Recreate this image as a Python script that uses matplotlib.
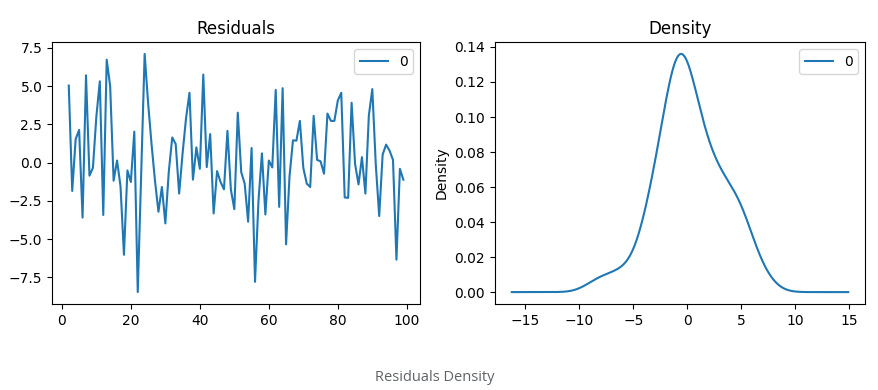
import numpy as np
import matplotlib
matplotlib.use('Agg')
import matplotlib.pyplot as plt
from matplotlib.ticker import MultipleLocator

# residual series, index 2..99
idx = np.arange(2, 100)
resid = np.array([
    5.03, -1.86, 1.53, 2.13, -3.60, 5.70, -0.86, -0.35, 3.00, 5.31,
    -3.43, 6.72, 5.00, -1.19, 0.13, -1.55, -6.03, -0.52, -1.27, 2.02,
    -8.47, -0.70, 7.10, 3.90, 1.20, -1.20, -3.22, -1.60, -3.98, -0.60,
    1.64, 1.21, -2.03, 0.60, 2.90, 4.56, -1.12, 0.99, -0.41, 5.75,
    -0.30, 1.86, -3.33, -0.56, -1.27, -1.75, 2.07, -1.77, -3.05, 3.26,
    -0.63, -1.38, -3.87, 0.95, -7.80, -2.50, 0.60, -3.40, 0.13, -0.32,
    4.75, -2.90, 4.86, -5.35, -0.90, 1.45, 1.43, 2.72, -0.35, -1.38,
    -1.60, 3.05, 0.17, 0.08, -0.73, 3.20, 2.72, 2.72, 4.05, 4.56,
    -2.28, -2.31, 3.91, -0.09, -1.43, 0.35, -2.03, 3.08, 4.80, -0.10,
    -3.50, 0.52, 1.17, 0.78, 0.17, -6.35, -0.41, -1.12])

# gaussian kde like pandas (scott bandwidth)
n = len(resid)
bw = resid.std(ddof=1) * n ** (-1 / 5)
rng = resid.max() - resid.min()
xs = np.linspace(resid.min() - 0.5 * rng, resid.max() + 0.5 * rng, 1000)
dens = np.exp(-0.5 * ((xs[:, None] - resid[None, :]) / bw) ** 2).sum(axis=1)
dens = dens / (n * bw * np.sqrt(2 * np.pi))

fig = plt.figure(figsize=(8.79, 3.9), dpi=100)
ax1 = fig.add_axes([0.0592, 0.2205, 0.4187, 0.6718])
ax1.plot(idx, resid, label='0')
ax1.set_title('Residuals')
ax1.yaxis.set_major_locator(MultipleLocator(2.5))
ax1.legend(loc='upper right')

ax2 = fig.add_axes([0.5631, 0.2205, 0.4210, 0.6718])
ax2.plot(xs, dens, label='0')
ax2.set_title('Density')
ax2.set_ylabel('Density')
ax2.yaxis.set_major_locator(MultipleLocator(0.02))
ax2.legend(loc='upper right')

fig.text(0.495, 0.033, 'Residuals Density', ha='center', va='center',
         color='#5f6368', fontsize=10.5, family='Open Sans')

fig.savefig('out.png', dpi=100)
